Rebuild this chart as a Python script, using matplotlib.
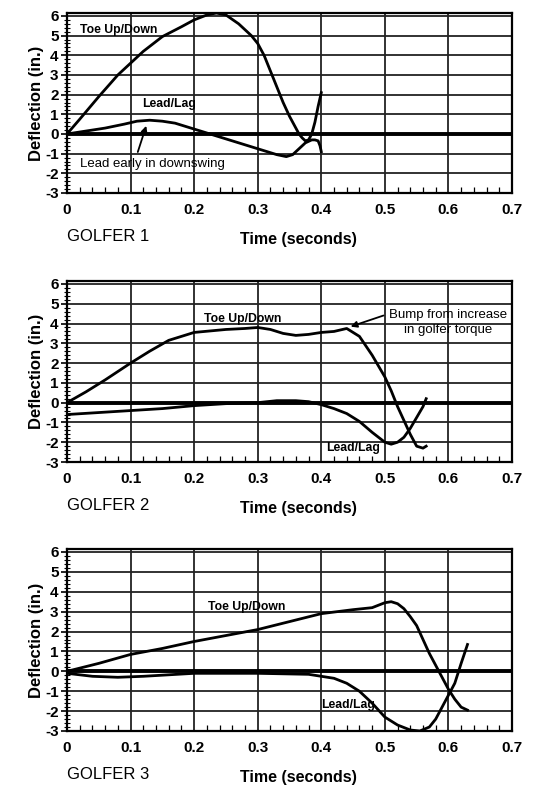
import matplotlib
matplotlib.use("Agg")
import matplotlib.pyplot as plt
from matplotlib.ticker import MultipleLocator, FixedLocator

plt.rcParams['font.family'] = ['Liberation Sans', 'DejaVu Sans']

# ---------------- data ----------------
x_ticks = [0, 0.1, 0.2, 0.3, 0.4, 0.5, 0.6, 0.7]
x_tick_labels = ["0", "0.1", "0.2", "0.3", "0.4", "0.5", "0.6", "0.7"]
y_ticks = [-3, -2, -1, 0, 1, 2, 3, 4, 5, 6]

g1_toe_t = [0, 0.02, 0.05, 0.08, 0.1, 0.12, 0.15, 0.18, 0.2, 0.22, 0.235, 0.25, 0.27, 0.29, 0.3,
            0.31, 0.32, 0.33, 0.34, 0.35, 0.36, 0.365, 0.37, 0.375, 0.38, 0.385, 0.39, 0.395, 0.4]
g1_toe_y = [0, 0.75, 1.9, 3.0, 3.6, 4.2, 4.95, 5.45, 5.8, 6.05, 6.15, 6.05, 5.6, 5.0, 4.6,
            4.0, 3.2, 2.4, 1.6, 0.9, 0.3, 0.0, -0.2, -0.35, -0.3, 0.0, 0.6, 1.4, 2.1]
g1_lead_t = [0, 0.03, 0.06, 0.09, 0.11, 0.13, 0.15, 0.17, 0.19, 0.21, 0.23, 0.26, 0.29, 0.31,
             0.33, 0.345, 0.355, 0.365, 0.375, 0.385, 0.39, 0.395, 0.398, 0.4]
g1_lead_y = [0, 0.15, 0.3, 0.5, 0.65, 0.7, 0.65, 0.55, 0.35, 0.15, -0.05, -0.35, -0.65, -0.85,
             -1.05, -1.15, -1.05, -0.75, -0.45, -0.3, -0.3, -0.35, -0.6, -0.9]

g2_toe_t = [0, 0.03, 0.06, 0.1, 0.13, 0.16, 0.2, 0.25, 0.28, 0.3, 0.32, 0.34, 0.36, 0.38, 0.4,
            0.42, 0.44, 0.46, 0.48, 0.5, 0.51, 0.52, 0.53, 0.54, 0.55, 0.56, 0.565]
g2_toe_y = [0, 0.55, 1.15, 2.0, 2.6, 3.15, 3.55, 3.7, 3.75, 3.8, 3.7, 3.5, 3.4, 3.45, 3.55,
            3.6, 3.75, 3.35, 2.4, 1.3, 0.6, -0.2, -0.9, -1.6, -2.2, -2.3, -2.2]
g2_lead_t = [0, 0.05, 0.1, 0.15, 0.2, 0.25, 0.3, 0.33, 0.36, 0.38, 0.4, 0.42, 0.44, 0.46,
             0.48, 0.5, 0.51, 0.52, 0.53, 0.54, 0.55, 0.56, 0.565]
g2_lead_y = [-0.6, -0.5, -0.4, -0.3, -0.15, -0.05, 0.0, 0.1, 0.1, 0.05, -0.1, -0.3, -0.55, -0.95,
             -1.5, -2.0, -2.1, -2.0, -1.75, -1.3, -0.75, -0.2, 0.2]

g3_toe_t = [0, 0.05, 0.1, 0.15, 0.2, 0.25, 0.3, 0.35, 0.4, 0.45, 0.48, 0.5, 0.51, 0.52, 0.53,
            0.54, 0.55, 0.56, 0.57, 0.58, 0.59, 0.6, 0.61, 0.62, 0.63]
g3_toe_y = [0, 0.4, 0.85, 1.15, 1.5, 1.8, 2.1, 2.5, 2.9, 3.1, 3.2, 3.45, 3.5, 3.4, 3.15,
            2.75, 2.3, 1.6, 0.9, 0.3, -0.3, -0.9, -1.4, -1.8, -1.95]
g3_lead_t = [0, 0.04, 0.08, 0.12, 0.2, 0.3, 0.38, 0.4, 0.42, 0.44, 0.46, 0.48, 0.5, 0.52,
             0.54, 0.555, 0.57, 0.58, 0.59, 0.6, 0.61, 0.62, 0.63]
g3_lead_y = [-0.1, -0.25, -0.3, -0.25, -0.1, -0.1, -0.15, -0.25, -0.35, -0.6, -1.0, -1.6, -2.3, -2.7,
             -2.95, -3.0, -2.8, -2.4, -1.8, -1.2, -0.6, 0.4, 1.35]

golfer_labels = ["GOLFER 1", "GOLFER 2", "GOLFER 3"]
x_label = "Time (seconds)"
y_label = "Deflection (in.)"

# ---------------- figure ----------------
fig = plt.figure(figsize=(5.49, 7.87), dpi=100)

left = 67 / 549
width = (512 - 67) / 549
H = 787
boxes = [(13, 193), (281, 462), (549, 731)]

series = [
    (g1_toe_t, g1_toe_y, g1_lead_t, g1_lead_y),
    (g2_toe_t, g2_toe_y, g2_lead_t, g2_lead_y),
    (g3_toe_t, g3_toe_y, g3_lead_t, g3_lead_y),
]

axes = []
for i, ((top, bot), (tt, ty, lt, ly)) in enumerate(zip(boxes, series)):
    ax = fig.add_axes([left, 1 - bot / H, width, (bot - top) / H])
    axes.append(ax)
    ax.set_xlim(0, 0.7)
    ax.set_ylim(-3, 6.15)
    ax.xaxis.set_major_locator(FixedLocator(x_ticks))
    ax.set_xticklabels(x_tick_labels, fontsize=11, fontweight='bold')
    ax.xaxis.set_minor_locator(MultipleLocator(0.02))
    ax.yaxis.set_major_locator(FixedLocator(y_ticks))
    ax.set_yticklabels([str(v) for v in y_ticks], fontsize=11, fontweight='bold')
    ax.yaxis.set_minor_locator(MultipleLocator(0.2))
    ax.grid(True, which='major', color='#222222', linewidth=1.3)
    ax.tick_params(axis='x', which='major', length=0, pad=7)
    ax.tick_params(axis='x', which='minor', direction='in', length=4, width=0.9)
    ax.tick_params(axis='y', which='major', direction='out', length=4, width=1.2, pad=2)
    ax.tick_params(axis='y', which='minor', direction='inout', length=4, width=0.8)
    for s in ax.spines.values():
        s.set_linewidth(1.6)
    ax.axhline(0, color='black', linewidth=2.8, zorder=3)
    ax.plot(tt, ty, color='black', linewidth=2.0, zorder=4)
    ax.plot(lt, ly, color='black', linewidth=2.0, zorder=4)
    ax.set_ylabel(y_label, fontsize=12, fontweight='bold', labelpad=1)
    ax.text(0.0, -0.2, golfer_labels[i], transform=ax.transAxes, fontsize=12,
            ha='left', va='top')
    ax.text(0.52, -0.215, x_label, transform=ax.transAxes, fontsize=11.5, fontweight='bold',
            ha='center', va='top')

ann = dict(fontsize=8.8, fontweight='bold', zorder=5)
a1, a2, a3 = axes
a1.text(0.021, 5.3, "Toe Up/Down", ha='left', va='center', **ann)
a1.text(0.118, 1.5, "Lead/Lag", ha='left', va='center', **ann)
a1.text(0.021, -1.55, "Lead early in downswing", ha='left', va='center',
        fontsize=9.5, zorder=5)
a1.annotate("", xy=(0.126, 0.55), xytext=(0.11, -1.05),
            arrowprops=dict(arrowstyle='-|>', color='black', lw=1.3, mutation_scale=9))

a2.text(0.216, 4.25, "Toe Up/Down", ha='left', va='center', **ann)
a2.text(0.60, 4.07, "Bump from increase\nin golfer torque", ha='center', va='center',
        fontsize=9.5, linespacing=1.35, zorder=5)
a2.annotate("", xy=(0.442, 3.8), xytext=(0.502, 4.45),
            arrowprops=dict(arrowstyle='-|>', color='black', lw=1.3, mutation_scale=9))
a2.text(0.408, -2.3, "Lead/Lag", ha='left', va='center', **ann)

a3.text(0.222, 3.25, "Toe Up/Down", ha='left', va='center', **ann)
a3.text(0.40, -1.7, "Lead/Lag", ha='left', va='center', **ann)

fig.savefig("out.png", dpi=100)
